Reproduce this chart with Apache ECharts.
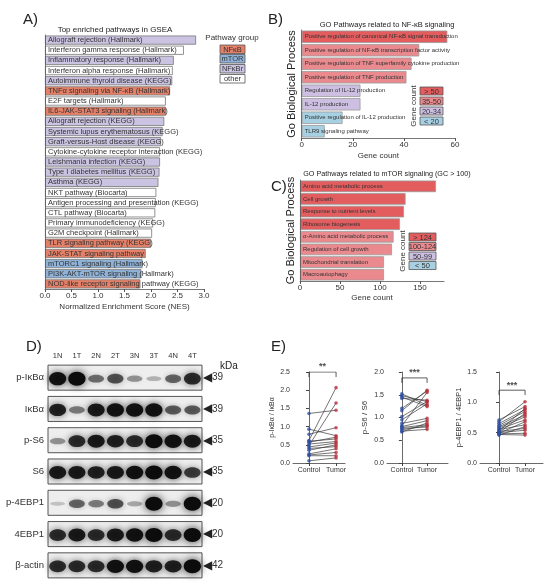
<!DOCTYPE html>
<html><head><meta charset="utf-8">
<script src="https://cdn.jsdelivr.net/npm/echarts@6/dist/echarts.min.js"></script>
<style>html,body{margin:0;padding:0;background:#fff}#c{width:550px;height:585px}</style>
</head><body><div id="c"></div>
<script>
// ---------- DATA ----------
const gseaPathways = [
  'Allograft rejection (Hallmark)','Interferon gamma response (Hallmark)','Inflammatory response (Hallmark)',
  'Interferon alpha response (Hallmark)','Autoimmune thyroid disease (KEGG)','TNFα signaling via NF-κB (Hallmark)',
  'E2F targets (Hallmark)','IL6-JAK-STAT3 signaling (Hallmark)','Allograft rejection (KEGG)',
  'Systemic lupus erythematosus (KEGG)','Graft-versus-Host disease (KEGG)','Cytokine-cytokine receptor interaction (KEGG)',
  'Leishmania infection (KEGG)','Type I diabetes mellitus (KEGG)','Asthma (KEGG)','NKT pathway (Biocarta)',
  'Antigen processing and presentation (KEGG)','CTL pathway (Biocarta)','Primary immunodeficiency (KEGG)',
  'G2M checkpoint (Hallmark)','TLR signaling pathway (KEGG)','JAK-STAT signaling pathway',
  'mTORC1 signaling (Hallmark)','PI3K-AKT-mTOR signaling (Hallmark)','NOD-like receptor signaling pathway (KEGG)'];
const gseaNES = [2.85,2.62,2.43,2.41,2.40,2.36,2.28,2.28,2.25,2.22,2.19,2.17,2.17,2.16,2.14,2.10,2.09,2.08,2.04,2.02,2.00,1.90,1.84,1.82,1.80];
const gseaGroups = ['NFκBr','other','NFκBr','other','NFκBr','NFκB','other','NFκB','NFκBr','NFκBr','NFκBr','other',
  'NFκBr','NFκBr','NFκBr','other','other','other','other','other','NFκB','NFκB','mTOR','mTOR','NFκB'];
const groupNames = ['NFκB','mTOR','NFκBr','other'];

const nfkbTerms = ['Positive regulation of canonical NF-κB signal transduction','Positive regulation of NF-κB transcription factor activity',
  'Positive regulation of TNF superfamily cytokine production','Positive regulation of TNF production',
  'Regulation of IL-12 production','IL-12 production','Positive regulation of IL-12 production','TLR9 signaling pathway'];
const nfkbCounts = [57,46,43,41,23,23,16,9];
const nfkbBins = ['> 50','35-50','20-34','< 20'];

const mtorTerms = ['Amino acid metabolic process','Cell growth','Response to nutrient levels','Ribosome biogenesis',
  'α-Amino acid metabolic process','Regulation of cell growth','Mitochondrial translation','Macroautophagy'];
const mtorCounts = [170,132,130,125,117,115,105,105];
const mtorBins = ['> 124','100-124','50-99','< 50'];

const blotLanes = ['1N','1T','2N','2T','3N','3T','4N','4T'];
const blotRows = ['p-IκBα','IκBα','p-S6','S6','p-4EBP1','4EBP1','β-actin'];
const blotKDa = ['39','39','35','35','20','20','42'];
const blotIntensity = [
  [0.95,1.00,0.45,0.60,0.30,0.15,0.50,0.80],
  [0.85,0.40,0.90,0.95,0.95,0.95,0.55,0.55],
  [0.30,0.80,0.90,0.85,0.80,1.00,0.95,0.90],
  [0.90,0.90,0.85,0.90,0.95,1.00,0.95,0.70],
  [0.08,0.50,0.40,0.60,0.20,1.00,0.30,1.00],
  [0.80,0.90,0.80,0.90,0.95,1.00,0.80,1.00],
  [0.80,0.80,0.80,0.95,0.95,0.85,0.85,1.00]];

const pairLabels = ['Control','Tumor'];
const ikbControl = [1.36,0.93,0.79,0.62,0.60,0.57,0.52,0.48,0.44,0.40,0.35,0.25,0.22,0.20,0.06];
const ikbTumor   = [1.45,0.75,0.97,2.07,0.66,0.71,0.59,1.65,0.55,0.45,0.50,0.39,0.29,0.20,0.14];
const s6Control  = [1.52,1.48,1.45,1.42,1.20,1.15,1.02,0.95,0.87,0.82,0.80,0.78,0.76,0.73,0.70,0.68];
const s6Tumor    = [1.27,1.35,1.24,1.38,1.58,1.60,1.35,1.30,0.98,1.55,0.93,0.84,0.79,0.82,0.74,0.88];
const ebpControl = [0.71,0.68,0.65,0.62,0.60,0.58,0.56,0.55,0.53,0.52,0.50,0.49,0.48,0.47,0.46,0.50];
const ebpTumor   = [0.93,1.01,0.88,0.85,0.79,0.76,0.71,0.63,0.90,0.57,0.54,0.68,0.49,0.46,0.60,0.82];

// ---------- STYLE ----------
const FONT = 'Liberation Sans, Arial, sans-serif';
const TXT = '#333';
const groupColor = {'NFκB':'#e58068','mTOR':'#8fb2d8','NFκBr':'#cbc3e2','other':'#ffffff'};
const binColorsB = ['#e35d5f','#ea8a8e','#cdbfe2','#a8d0e3'];
function binB(v){return v>50?0:v>=35?1:v>=20?2:3;}
function binC(v){return v>124?0:v>=100?1:v>=50?2:3;}

const chart = echarts.init(document.getElementById('c'), null, {renderer:'canvas'});

function catY(grid, data, fs, extra){
  return Object.assign({type:'category',gridIndex:grid,data:data,inverse:true,z:10,
    axisLine:{lineStyle:{color:'#555',width:0.8}},
    axisTick:{inside:true,length:2.5,alignWithLabel:true,interval:0,lineStyle:{color:'#555'}},
    axisLabel:{inside:true,interval:0,margin:3,fontSize:fs,color:TXT,fontFamily:FONT}},extra||{});
}
function valX(grid,min,max,interval,name,gap,fmt){
  return {type:'value',gridIndex:grid,min:min,max:max,interval:interval,splitLine:{show:false},
    axisLine:{show:true,lineStyle:{color:'#555',width:0.8}},axisTick:{show:true,length:3,lineStyle:{color:'#555'}},
    axisLabel:{fontSize:8,color:TXT,fontFamily:FONT,margin:3,formatter:fmt||null,showMaxLabel:max%interval===0},
    name:name,nameLocation:'middle',nameGap:gap,nameTextStyle:{fontSize:8,color:TXT,fontFamily:FONT}};
}

// paired plot axes
function pairX(grid,min,max){
  return {type:'value',gridIndex:grid,min:min,max:max,splitLine:{show:false},
    axisLine:{show:true,onZero:false,lineStyle:{color:'#444',width:0.8}},
    axisTick:{show:true,length:3,customValues:[0,1],lineStyle:{color:'#444'}},
    axisLabel:{fontSize:7,color:TXT,fontFamily:FONT,margin:4,customValues:[0,1],formatter:v=>pairLabels[Math.round(v)]||''}};
}
function pairY(grid,max,name,gap,fs){
  return {type:'value',gridIndex:grid,min:0,max:max,interval:0.5,splitLine:{show:false},
    axisLine:{show:true,lineStyle:{color:'#444',width:0.8}},axisTick:{show:true,length:3,lineStyle:{color:'#444'}},
    axisLabel:{fontSize:7,color:TXT,fontFamily:FONT,margin:3,formatter:v=>v.toFixed(1)},
    name:name,nameLocation:'middle',nameRotate:90,nameGap:gap,nameTextStyle:{fontSize:fs,color:TXT,fontFamily:FONT}};
}
function pairSeries(xi,yi,ctrl,tum,brLow,brHigh,stars){
  const out=[];
  ctrl.forEach((c,i)=>{
    out.push({type:'line',xAxisIndex:xi,yAxisIndex:yi,data:[[0,c],[1,tum[i]]],symbol:'none',silent:true,
      lineStyle:{color:'#3a3a3a',width:0.7},z:2});
  });
  out.push({type:'scatter',xAxisIndex:xi,yAxisIndex:yi,data:ctrl.map(v=>[0,v]),symbol:'circle',symbolSize:3.6,
    itemStyle:{color:'#2f4fa2'},z:3});
  out.push({type:'scatter',xAxisIndex:xi,yAxisIndex:yi,data:tum.map(v=>[1,v]),symbol:'circle',symbolSize:3.6,
    itemStyle:{color:'#b8303c'},z:3});
  out.push({type:'line',xAxisIndex:xi,yAxisIndex:yi,data:[[0,brLow],[0,brHigh],[1,brHigh],[1,brLow]],symbol:'none',
    lineStyle:{color:'#333',width:0.8},silent:true});
  out.push({type:'scatter',xAxisIndex:xi,yAxisIndex:yi,data:[[0.5,brHigh]],symbolSize:1,itemStyle:{color:'rgba(0,0,0,0)'},
    label:{show:true,position:'top',distance:0,formatter:stars,fontSize:9,fontWeight:'bold',color:'#222',fontFamily:FONT}});
  return out;
}

// blot data flattened
const bandData=[];
blotIntensity.forEach((row,r)=>row.forEach((v,l)=>bandData.push([l,r,v])));

function legendBoxes(x,ys,w,h,labels,colors,fs){
  const els=[];
  ys.forEach((y,i)=>{
    els.push({type:'rect',shape:{x:x,y:y,width:w,height:h},style:{fill:colors[i],stroke:'#555',lineWidth:0.8}});
    els.push({type:'text',x:x+w/2,y:y+h/2+0.5,style:{text:labels[i],fontSize:fs,fill:'#333',fontFamily:FONT,align:'center',verticalAlign:'middle'}});
  });
  return els;
}

const graphics = [].concat(
  [{type:'text',x:232,y:38,style:{text:'Pathway group',fontSize:8,fill:TXT,fontFamily:FONT,align:'center',verticalAlign:'middle'}}],
  legendBoxes(220,[45,54.5,64.5,74.5],25,8.5,groupNames,groupNames.map(g=>groupColor[g]),7.5),
  [{type:'text',x:414,y:106,rotation:Math.PI/2,style:{text:'Gene count',fontSize:8,fill:TXT,fontFamily:FONT,align:'center',verticalAlign:'middle'}}],
  legendBoxes(420,[87,97,107,117],23,8,nfkbBins,binColorsB,7.5),
  [{type:'text',x:403,y:251,rotation:Math.PI/2,style:{text:'Gene count',fontSize:8,fill:TXT,fontFamily:FONT,align:'center',verticalAlign:'middle'}}],
  legendBoxes(409,[233,242.5,252,261.5],27,8,mtorBins,binColorsB,7.5)
);

const titleStyle = (fs)=>({fontSize:fs,fontWeight:'normal',color:'#222',fontFamily:FONT});

const option = {
  animation:false,
  backgroundColor:'#fff',
  textStyle:{fontFamily:FONT},
  title:[
    {text:'A)',left:18,top:7,textStyle:titleStyle(15)},
    {text:'Top enriched pathways in GSEA',left:110,top:21,textAlign:'center',textStyle:titleStyle(8)},
    {text:'B)',left:263,top:7,textStyle:titleStyle(15)},
    {text:'GO Pathways related to NF-κB signaling',left:382,top:16,textAlign:'center',textStyle:titleStyle(7.5)},
    {text:'C)',left:266,top:174,textStyle:titleStyle(15)},
    {text:'GO Pathways related to mTOR signaling (GC > 100)',left:382,top:166,textAlign:'center',textStyle:titleStyle(7.2)},
    {text:'D)',left:21,top:334,textStyle:titleStyle(15)},
    {text:'E)',left:266,top:334,textStyle:titleStyle(15)},
    {text:'kDa',left:215,top:356,textStyle:titleStyle(10)}
  ],
  graphic:graphics,
  grid:[
    {left:45,top:35,width:159,height:254},
    {left:301.7,top:30,width:153.3,height:108},
    {left:300,top:180,width:144,height:101},
    {left:48,top:362,width:154,height:219},
    {left:293,top:372,width:52,height:91},
    {left:387,top:372,width:61,height:91},
    {left:480,top:372,width:63,height:91}
  ],
  xAxis:[
    valX(0,0,3,0.5,'Normalized Enrichment Score (NES)',14,v=>v.toFixed(1)),
    valX(1,0,60,20,'Gene count',14),
    valX(2,0,180,50,'Gene count',13),
    {type:'category',gridIndex:3,data:blotLanes,position:'top',axisLine:{show:false},axisTick:{show:false},
      axisLabel:{fontSize:7.5,color:TXT,fontFamily:FONT,margin:2,interval:0}},
    pairX(4,-0.59,1.33),
    pairX(5,-0.59,1.83),
    pairX(6,-0.73,1.69)
  ],
  yAxis:[
    catY(0,gseaPathways,7.5),
    catY(1,nfkbTerms,6,{name:'Go Biological Process',nameLocation:'middle',nameRotate:90,nameGap:4,
      nameTextStyle:{fontSize:11,color:'#222',fontFamily:FONT}}),
    catY(2,mtorTerms,6,{name:'Go Biological Process',nameLocation:'middle',nameRotate:90,nameGap:4,
      nameTextStyle:{fontSize:11,color:'#222',fontFamily:FONT}}),
    {type:'category',gridIndex:3,data:blotRows,inverse:true,position:'left',axisLine:{show:false},axisTick:{show:false},
      axisLabel:{fontSize:9.5,color:TXT,fontFamily:FONT,margin:4,interval:0}},
    {type:'category',gridIndex:3,data:blotRows,inverse:true,position:'right',axisLine:{show:false},axisTick:{show:false},
      axisLabel:{margin:1,interval:0,formatter:(v,i)=>'{t|◀}{n|'+blotKDa[i]+'}',
        rich:{t:{fontSize:12,color:'#222'},n:{fontSize:10,color:TXT,fontFamily:FONT}}}},
    pairY(4,2.5,'p-IκBα / IκBα',17.5,7),
    pairY(5,2.0,'p-S6 / S6',18,8),
    pairY(6,1.5,'p-4EBP1 / 4EBP1',16,7.5)
  ],
  series:[
    {type:'bar',xAxisIndex:0,yAxisIndex:0,barCategoryGap:'10%',
      data:gseaNES.map((v,i)=>({value:v,itemStyle:{color:groupColor[gseaGroups[i]]}})),
      itemStyle:{borderColor:'#777',borderWidth:0.8},z:1},
    {type:'bar',xAxisIndex:1,yAxisIndex:1,barCategoryGap:'8%',
      data:nfkbCounts.map(v=>({value:v,itemStyle:{color:binColorsB[binB(v)]}})),
      itemStyle:{borderColor:'#999',borderWidth:0.8},z:1},
    {type:'bar',xAxisIndex:2,yAxisIndex:2,barCategoryGap:'8%',
      data:mtorCounts.map(v=>({value:v,itemStyle:{color:binColorsB[binC(v)]}})),
      itemStyle:{borderColor:'#999',borderWidth:0.8},z:1},
    // blot frames
    {type:'custom',xAxisIndex:3,yAxisIndex:3,data:blotRows.map((r,i)=>[0,i]),silent:true,z:1,
      renderItem:(params,api)=>{
        const row=api.value(1);
        const a=api.coord([0,row]), b=api.coord([blotLanes.length-1,row]), s=api.size([1,1]);
        const h=s[1]*0.8;
        return {type:'rect',shape:{x:a[0]-s[0]/2,y:a[1]-h/2,width:b[0]-a[0]+s[0],height:h},
          style:{fill:'#eeeeee',stroke:'#555',lineWidth:1}};
      }},
    // blot bands
    {type:'custom',xAxisIndex:3,yAxisIndex:3,data:bandData,silent:true,z:2,
      renderItem:(params,api)=>{
        const l=api.value(0), r=api.value(1), v=api.value(2);
        const c=api.coord([l,r]), s=api.size([1,1]);
        const w=s[0]*(0.76+0.14*v), h=3+v*11;
        return {type:'ellipse',shape:{cx:c[0],cy:c[1]+1,rx:w/2,ry:h/2},
          style:{fill:'rgba(12,12,12,'+(0.12+0.88*v).toFixed(2)+')',shadowBlur:3+v*5,shadowColor:'rgba(0,0,0,'+(0.8*v).toFixed(2)+')'}};
      }}
  ].concat(
    pairSeries(4,5,ikbControl,ikbTumor,2.36,2.5,'**'),
    pairSeries(5,6,s6Control,s6Tumor,1.76,1.87,'***'),
    pairSeries(6,7,ebpControl,ebpTumor,1.12,1.2,'***')
  )
};
chart.setOption(option);
</script>
</body></html>
